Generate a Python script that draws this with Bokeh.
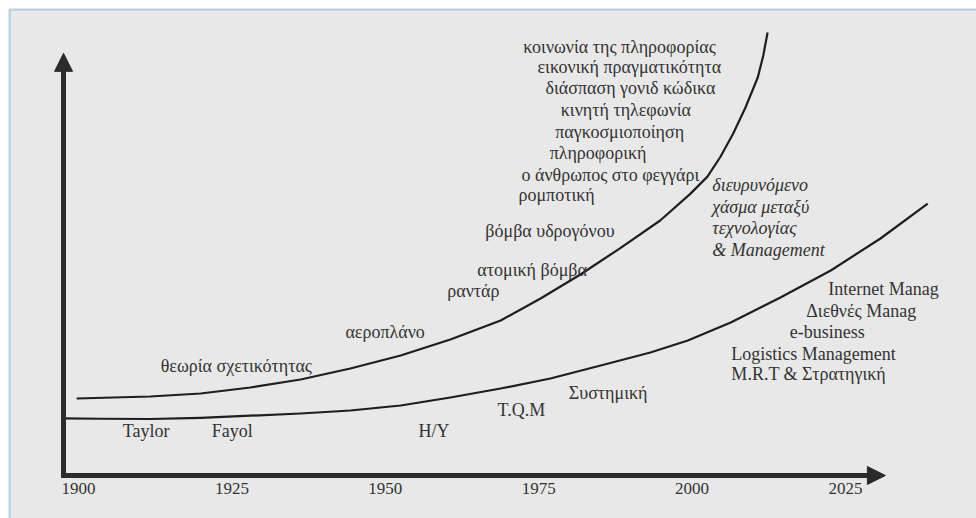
from bokeh.plotting import figure
from bokeh.models import (ColumnDataSource, Range1d, FixedTicker, Arrow, NormalHead,
                          BoxAnnotation, LinearAxis)
from bokeh.core.properties import value
from bokeh.embed import file_html
from bokeh.resources import INLINE

# ---------------- data ----------------
tick_years = [1900, 1925, 1950, 1975, 2000, 2025]

# upper curve: technology
tech_year = [1899.7, 1911.7, 1919.9, 1928.0, 1936.2, 1944.3, 1952.5, 1960.6, 1968.8,
             1975.3, 1981.8, 1988.3, 1994.8, 1999.7, 2002.5, 2004.6, 2006.7, 2008.7,
             2010.7, 2011.6, 2012.3]
tech_level = [16.49, 16.92, 17.56, 18.84, 20.56, 22.91, 25.70, 29.12, 33.19,
              37.90, 43.04, 48.70, 54.60, 60.30, 64.00, 68.20, 73.23, 78.80,
              85.22, 89.93, 94.86]

# lower curve: management
mgmt_year = [1897.6, 1903.6, 1911.7, 1919.9, 1928.0, 1936.2, 1944.3, 1952.5, 1960.6,
             1968.8, 1976.9, 1985.1, 1993.2, 1999.3, 2006.3, 2014.4, 2022.6, 2030.7,
             2038.4]
mgmt_level = [12.21, 12.15, 12.10, 12.35, 12.80, 13.28, 13.92, 14.99, 16.70,
              18.63, 20.77, 23.55, 26.34, 28.91, 32.76, 38.12, 43.90, 50.75,
              58.24]

# event labels (left edge year, level)
label_text = [
    "κοινωνία της πληροφορίας", "εικονική  πραγματικότητα", "διάσπαση γονιδ κώδικα",
    "κινητή τηλεφωνία", "παγκοσμιοποίηση", "πληροφορική", "ο άνθρωπος στο φεγγάρι",
    "ρομποτική", "βόμβα υδρογόνου", "ατομική βόμβα", "ραντάρ", "αεροπλάνο",
    "θεωρία σχετικότητας", "Taylor", "Fayol", "H/Y", "T.Q.M", "Συστημική",
    "Internet Manag", "Διεθνές Manag", "e-business", "Logistics Management",
    "M.R.T & Στρατηγική",
]
label_year = [1972.5, 1974.8, 1976.1, 1978.6, 1977.7, 1976.8, 1972.2,
              1971.7, 1966.3, 1965.0, 1960.1, 1943.5,
              1913.4, 1907.2, 1921.7, 1955.4, 1968.3, 1979.9,
              2022.2, 2018.6, 2015.9, 2006.4,
              2006.4]
label_level = [91.86, 87.37, 82.87, 78.37, 73.66, 69.16, 64.45,
               59.96, 52.46, 43.90, 39.40, 30.62,
               23.55, 9.42, 9.42, 9.42, 13.92, 17.77,
               39.83, 35.12, 30.62, 25.91,
               21.63]

gap_text = ["διευρυνόμενο", "χάσμα μεταξύ", "τεχνολογίας", "& Management"]
gap_year = [2003.3, 2003.3, 2003.3, 2003.3]
gap_level = [62.10, 57.39, 52.89, 48.39]

# view / axis extents (data units)
x_start, x_end = 1888.59, 2046.35
y_start, y_end = -9.21, 100.0
x_axis_start, x_axis_end, x_arrow_tip = 1897.56, 2028.6, 2031.5
y_axis_start, y_axis_end, y_arrow_tip = 0.0, 86.3, 90.4

# ---------------- styling ----------------
BG = "#e8e8e8"
INK = "#2b2b2b"
TXT = "#333333"
SERIF = "Liberation Serif, DejaVu Serif, serif"
BLUE = "#3f9ad8"

p = figure(width=976, height=518, output_backend="svg", toolbar_location=None,
           x_range=Range1d(x_start, x_end), y_range=Range1d(y_start, y_end),
           x_axis_type=None, y_axis_type=None,
           min_border_left=8, min_border_right=0, min_border_top=8, min_border_bottom=0)
p.background_fill_color = BG
p.border_fill_color = "white"
p.outline_line_color = None
p.grid.visible = False

xaxis = LinearAxis(ticker=FixedTicker(ticks=tick_years), bounds=(x_axis_start, x_axis_end),
                   fixed_location=y_axis_start)
xaxis.axis_line_width = 5
xaxis.axis_line_color = INK
xaxis.axis_line_cap = "square"
xaxis.major_tick_line_color = None
xaxis.minor_tick_line_color = None
xaxis.major_tick_out = 0
xaxis.major_tick_in = 0
xaxis.major_label_standoff = 8
xaxis.major_label_text_font = SERIF
xaxis.major_label_text_font_size = "17px"
xaxis.major_label_text_color = TXT
p.add_layout(xaxis, "below")

yaxis = LinearAxis(ticker=FixedTicker(ticks=[]), bounds=(y_axis_start, y_axis_end),
                   fixed_location=x_axis_start)
yaxis.axis_line_width = 5
yaxis.axis_line_color = INK
yaxis.axis_line_cap = "square"
yaxis.major_tick_line_color = None
yaxis.minor_tick_line_color = None
yaxis.major_tick_out = 0
yaxis.major_tick_in = 0
yaxis.major_label_text_font_size = "0px"
p.add_layout(yaxis, "left")

p.add_layout(Arrow(end=NormalHead(size=18, fill_color=INK, line_color=INK, line_width=1),
                   x_start=x_axis_end, y_start=y_axis_start, x_end=x_arrow_tip, y_end=y_axis_start,
                   line_color=INK, line_width=5))
p.add_layout(Arrow(end=NormalHead(size=18, fill_color=INK, line_color=INK, line_width=1),
                   x_start=x_axis_start, y_start=y_axis_end, x_end=x_axis_start, y_end=y_arrow_tip,
                   line_color=INK, line_width=5))

p.line(tech_year, tech_level, line_color="#1e1e1e", line_width=2.2, line_join="round")
p.line(mgmt_year, mgmt_level, line_color="#1e1e1e", line_width=2.2, line_join="round")

src = ColumnDataSource(dict(x=label_year, y=label_level, t=label_text))
p.text(x="x", y="y", text="t", source=src, text_font=value(SERIF), text_font_size="18px",
       text_color=TXT, text_align="left", text_baseline="middle")

src2 = ColumnDataSource(dict(x=gap_year, y=gap_level, t=gap_text))
p.text(x="x", y="y", text="t", source=src2, text_font=value(SERIF), text_font_size="18px",
       text_font_style="italic", text_color=TXT, text_align="left", text_baseline="middle")

# blue frame edge (top and left visible)
p.add_layout(BoxAnnotation(left=9, right=4000, top=9, bottom=4000,
                           left_units="canvas", right_units="canvas",
                           top_units="canvas", bottom_units="canvas",
                           fill_alpha=0, line_color=BLUE, line_width=2.5))

open("out.html", "w").write(file_html(p, INLINE))
